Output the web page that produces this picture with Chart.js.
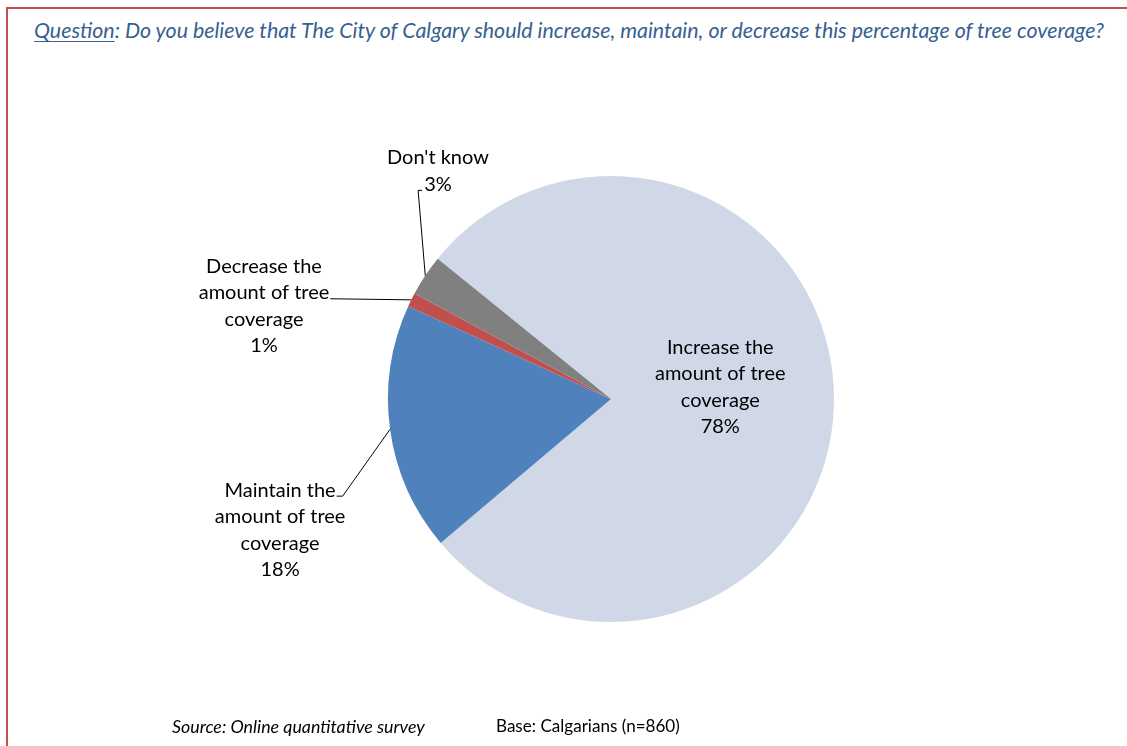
<!DOCTYPE html>
<html>
<head>
<meta charset="utf-8">
<title>Tree coverage</title>
<script src="https://cdn.jsdelivr.net/npm/chart.js@4/dist/chart.umd.min.js"></script>
<style>
  html, body { margin: 0; padding: 0; background: #fff; width: 1127px; height: 746px; overflow: hidden; }
  #frame { position: absolute; left: 6px; top: 7px; width: 1160px; height: 800px; border: 2px solid #c0504d; box-sizing: border-box; }
  #title { position: absolute; left: 34px; top: 17px; white-space: nowrap; font-family: Lato, sans-serif; font-style: italic; font-size: 19px; color: #376092; }
  #title u { text-decoration-thickness: 1px; text-underline-offset: 3px; }
  #chart { position: absolute; left: 0; top: 0; }
  .foot { position: absolute; top: 715px; white-space: nowrap; font-family: Lato, sans-serif; font-size: 15px; color: #000; }
  #source { left: 172px; font-style: italic; }
  #base { left: 496px; }
</style>
</head>
<body>
<div id="frame"></div>
<div id="title"><u>Question</u>: Do you believe that The City of Calgary should increase, maintain, or decrease this percentage of tree coverage?</div>
<canvas id="chart" width="1127" height="746"></canvas>
<div class="foot" id="source">Source: Online quantitative survey</div>
<div class="foot" id="base">Base: Calgarians (n=860)</div>

<script>
'use strict';

const categories = [
  'Increase the amount of tree coverage',
  'Maintain the amount of tree coverage',
  'Decrease the amount of tree coverage',
  "Don't know",
];
const shares = [78, 18, 1, 3];
const labelLines = [
  ['Increase the', 'amount of tree', 'coverage'],
  ['Maintain the', 'amount of tree', 'coverage'],
  ['Decrease the', 'amount of tree', 'coverage'],
  ["Don't know"],
];
const sliceColors = ['#d0d8e8', '#4f81bd', '#c0504d', '#808080'];

// where each label block sits, in radius units from the pie centre,
// and which text line the leader hangs off
const labelSpots = [
  { dx: 0.49, dy: -0.054 },
  { dx: -1.484, dy: 0.587, line: 0, side: 'right', stub: 6 },
  { dx: -1.556, dy: -0.417, line: 1, side: 'right', stub: 0 },
  { dx: -0.776, dy: -1.022, line: 1, side: 'left', stub: 4 },
];

const LABEL_FONT = '20px Lato, sans-serif';
const LINE_H = 26.5;

// squeeze a line of html text to the width it has in the printed chart
function fitWidth(id, target) {
  const el = document.getElementById(id);
  let size = parseFloat(getComputedStyle(el).fontSize);
  const w = el.getBoundingClientRect().width;
  el.style.fontSize = (size * target / w) + 'px';
}

const pieLabels = {
  id: 'pieLabels',
  afterDatasetsDraw(chart) {
    const ctx = chart.ctx;
    const arcs = chart.getDatasetMeta(0).data;
    ctx.save();
    ctx.font = LABEL_FONT;
    ctx.fillStyle = '#000';
    ctx.textAlign = 'center';
    ctx.textBaseline = 'middle';
    arcs.forEach((arc, i) => {
      const p = arc.getProps(['x', 'y', 'startAngle', 'endAngle', 'outerRadius'], true);
      const spot = labelSpots[i];
      const lines = labelLines[i].concat([shares[i] + '%']);
      const cx = p.x + spot.dx * p.outerRadius;
      const cy = p.y + spot.dy * p.outerRadius;
      const top = cy - (lines.length - 1) * LINE_H / 2;
      lines.forEach((t, k) => ctx.fillText(t, cx, top + k * LINE_H));

      if (spot.line === undefined) return;
      const mid = (p.startAngle + p.endAngle) / 2;
      const rimX = p.x + Math.cos(mid) * p.outerRadius;
      const rimY = p.y + Math.sin(mid) * p.outerRadius;
      const half = ctx.measureText(lines[spot.line]).width / 2;
      const ly = top + spot.line * LINE_H + 6;
      let lx = spot.side === 'right' ? cx + half + 1 : cx - half - 2;
      ctx.beginPath();
      ctx.strokeStyle = '#000';
      ctx.lineWidth = 1;
      ctx.moveTo(lx, ly);
      if (spot.stub) {
        lx += spot.side === 'right' ? spot.stub : -spot.stub;
        ctx.lineTo(lx, ly);
      }
      ctx.lineTo(rimX, rimY);
      ctx.stroke();
    });
    ctx.restore();
  },
};

function drawChart() {
  fitWidth('title', 1071);
  fitWidth('source', 253);
  fitWidth('base', 184);

  new Chart(document.getElementById('chart').getContext('2d'), {
    type: 'pie',
    data: {
      labels: categories,
      datasets: [{
        data: shares,
        backgroundColor: sliceColors,
        borderWidth: 0,
      }],
    },
    options: {
      responsive: false,
      animation: false,
      rotation: -51,
      layout: { padding: { left: 388, right: 293, top: 176, bottom: 124 } },
      plugins: {
        legend: { display: false },
        tooltip: { enabled: false },
      },
    },
    plugins: [pieLabels],
  });
}

if (document.fonts && document.fonts.load) {
  Promise.all([
    document.fonts.load('20px Lato'),
    document.fonts.load('italic 18px Lato'),
  ]).then(drawChart, drawChart);
} else {
  drawChart();
}
</script>
</body>
</html>
